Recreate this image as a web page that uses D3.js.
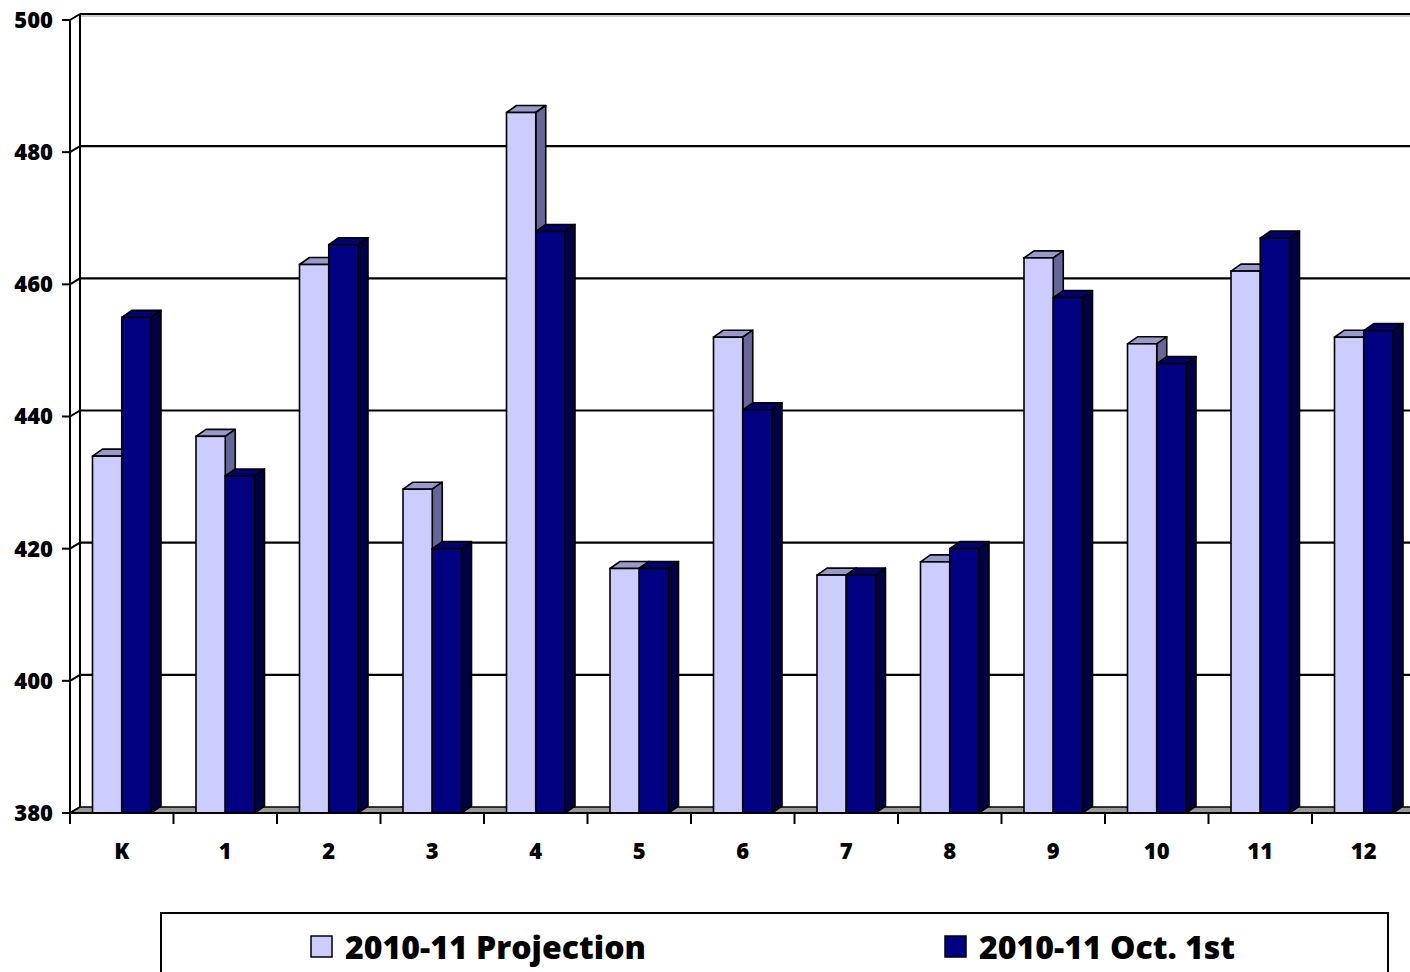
<!DOCTYPE html>
<html>
<head>
<meta charset="utf-8">
<script src="https://cdn.jsdelivr.net/npm/d3@7"></script>
<style>
  body{margin:0;background:#fff;}
  svg text{font-family:"Open Sans",sans-serif;font-weight:800;fill:#000;}
</style>
</head>
<body>
<svg id="chart" width="1410" height="972"></svg>
<script>
// data
var categories=['K','1','2','3','4','5','6','7','8','9','10','11','12'];
var projection=[434,437,463,429,486,417,452,416,418,464,451,462,452];
var oct1st=[455,431,466,420,468,417,441,416,420,458,448,467,453];
var seriesNames=['2010-11 Projection','2010-11 Oct. 1st'];
var yTicks=[380,400,420,440,460,480,500];

var fronts=['#ccccff','#000080'];
var tops=['#9999cc','#00006e'];
var sides=['#666699','#000045'];

var svg=d3.select('#chart');
var W=1410,H=972;

var x0=70, bandW=103.5;
var xscale=d3.scaleBand().domain(categories).range([x0,x0+bandW*categories.length]);
var xsub=d3.scaleBand().domain([0,1]).range([22.5,81]);
var yscale=d3.scaleLinear().domain([380,500]).range([813,20]);

// depth of the 3d walls and bars
var wdx=10, wdy=-6;
var bdx=10, bdy=-7;

var gg=svg.append('g');

// side wall gridlines (diagonals) + back wall gridlines
yTicks.forEach(function(t) {
  var y=yscale(t);
  gg.append('line').attr('x1',x0).attr('y1',y).attr('x2',x0+wdx).attr('y2',y+wdy)
    .attr('stroke','#000').attr('stroke-width',2);
  if (t>380) {
    gg.append('line').attr('x1',x0+wdx).attr('y1',y+wdy).attr('x2',W+20).attr('y2',y+wdy)
      .attr('stroke','#000').attr('stroke-width',2.2);
  }
});
// gray edge under the top of the back wall
gg.append('line').attr('x1',x0+wdx+1).attr('y1',yscale(500)+wdy+2).attr('x2',W+20).attr('y2',yscale(500)+wdy+2)
  .attr('stroke','#999').attr('stroke-width',1);

// back wall left edge
gg.append('line').attr('x1',x0+wdx).attr('y1',yscale(500)+wdy).attr('x2',x0+wdx).attr('y2',yscale(380)+wdy)
  .attr('stroke','#000').attr('stroke-width',2);

// floor
var yf=yscale(380);
gg.append('path')
  .attr('d','M'+x0+','+yf+'L'+(x0+wdx)+','+(yf+wdy)+'L'+(W+20)+','+(yf+wdy)+'L'+(W+20)+','+yf+'Z')
  .attr('fill','#999').attr('stroke','#000').attr('stroke-width',1.5);

// bars
var bw=xsub.bandwidth();
categories.forEach(function(c,i) {
  [projection[i],oct1st[i]].forEach(function(v,s) {
    var x=xscale(c)+xsub(s);
    var yv=yscale(v);
    var g=gg.append('g');
    g.append('path')
      .attr('d','M'+x+','+yv+'L'+(x+bdx)+','+(yv+bdy)+'L'+(x+bw+bdx)+','+(yv+bdy)+'L'+(x+bw)+','+yv+'Z')
      .attr('fill',tops[s]).attr('stroke','#000').attr('stroke-width',1.6).attr('stroke-linejoin','round');
    g.append('path')
      .attr('d','M'+(x+bw)+','+yv+'L'+(x+bw+bdx)+','+(yv+bdy)+'L'+(x+bw+bdx)+','+(yf+bdy)+'L'+(x+bw)+','+yf+'Z')
      .attr('fill',sides[s]).attr('stroke','#000').attr('stroke-width',1.6).attr('stroke-linejoin','round');
    g.append('rect').attr('x',x).attr('y',yv).attr('width',bw).attr('height',yf-yv)
      .attr('fill',fronts[s]).attr('stroke','#000').attr('stroke-width',1.6);
  });
});

// y axis
gg.append('line').attr('x1',x0).attr('y1',yscale(500)).attr('x2',x0).attr('y2',yscale(380))
  .attr('stroke','#000').attr('stroke-width',2);
yTicks.forEach(function(t) {
  var y=yscale(t);
  gg.append('line').attr('x1',x0-8).attr('y1',y).attr('x2',x0).attr('y2',y)
    .attr('stroke','#000').attr('stroke-width',2);
  gg.append('text').attr('x',53).attr('y',y).attr('dy','0.36em')
    .style('text-anchor','end').style('font-size','22px').text(t);
});

// x axis
gg.append('line').attr('x1',x0).attr('y1',yf).attr('x2',W+20).attr('y2',yf)
  .attr('stroke','#000').attr('stroke-width',2);
categories.forEach(function(c) {
  var xx=xscale(c);
  gg.append('line').attr('x1',xx).attr('y1',yf).attr('x2',xx).attr('y2',yf+11)
    .attr('stroke','#000').attr('stroke-width',2);
  gg.append('text').attr('x',xx+bandW/2).attr('y',851).attr('dy','0.36em')
    .style('text-anchor','middle').style('font-size','22px').text(c);
});

// legend
gg.append('rect').attr('x',161).attr('y',913).attr('width',1227).attr('height',100)
  .attr('fill','#fff').attr('stroke','#000').attr('stroke-width',2);
var legX=[311,945];
seriesNames.forEach(function(n,s) {
  gg.append('rect').attr('x',legX[s]).attr('y',936).attr('width',21).attr('height',21)
    .attr('fill',fronts[s]).attr('stroke','#000').attr('stroke-width',1.5);
  gg.append('text').attr('x',legX[s]+34).attr('y',947).attr('dy','0.36em')
    .style('font-size','32px').text(n);
});
</script>
</body>
</html>
